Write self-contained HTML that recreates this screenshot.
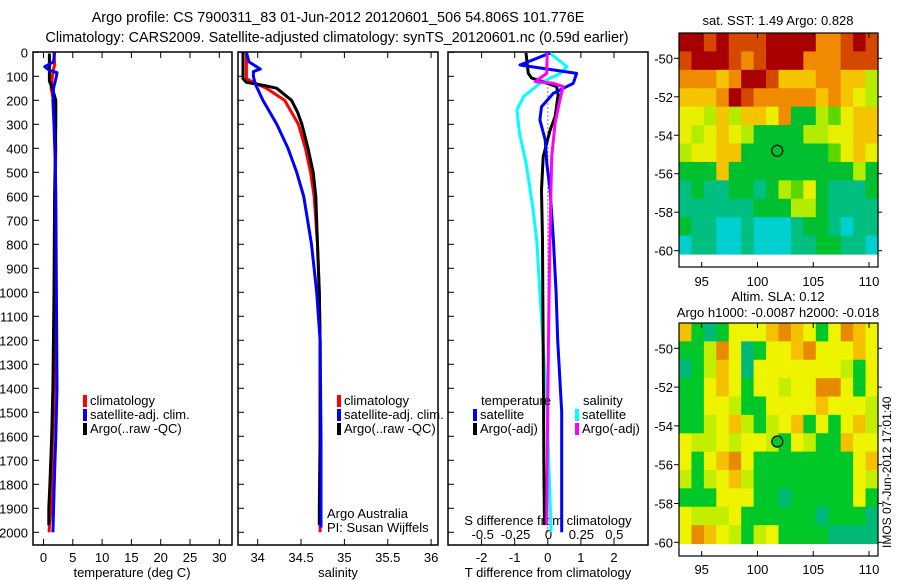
<!DOCTYPE html>
<html><head><meta charset="utf-8"><style>
html,body{margin:0;padding:0;background:#fff;}
svg{display:block;font-family:"Liberation Sans",sans-serif;}
text{font-size:13px;fill:#000;}
.ttl{font-size:14.4px;}
</style></head><body>
<svg id="chart" width="900" height="580" viewBox="0 0 900 580" xmlns="http://www.w3.org/2000/svg">
<text class="ttl" x="338" y="22" text-anchor="middle">Argo profile: CS 7900311_83 01-Jun-2012 20120601_506 54.806S 101.776E</text>
<text class="ttl" x="337" y="42" text-anchor="middle">Climatology: CARS2009. Satellite-adjusted climatology: synTS_20120601.nc (0.59d earlier)</text>
<g id="g1"></g>
<g id="g2"></g>
<g id="g3"></g>
<g id="m1"></g>
<g id="m2"></g>
<text transform="translate(891,548) rotate(-90)" style="font-size:12px">IMOS 07-Jun-2012 17:01:40</text>
</svg>
<script>
// ---- profile data ----
const depthTicks = [0,100,200,300,400,500,600,700,800,900,1000,1100,1200,1300,1400,1500,1600,1700,1800,1900,2000];
const tempTicks = [0,5,10,15,20,25,30];
const salTicks = [34,34.5,35,35.5,36];
const tdiffTicks = [-2,-1,0,1,2];
const sdiffTicks = [-0.5,-0.25,0,0.25,0.5];
const sdiffTickLabels = ["-0.5","-0.25","0","0.25","0.5"];

const tClimDepth = [0,50,100,150,200,300,400,600,1000,1400,1500,1650,1900,1970,2000];
const tClimVal   = [1.8,1.9,1.5,1.3,1.7,2.0,2.1,2.0,1.9,1.8,1.7,1.5,1.3,1.0,0.95];
const tSatDepth  = [0,40,60,75,85,100,150,200,300,450,600,1000,1400,1600,1750,2000];
const tSatVal    = [1.9,1.7,0.2,1.0,2.3,2.2,1.7,1.6,1.8,2.0,2.1,2.2,2.3,2.1,1.9,1.6];
const tArgoDepth = [5,60,120,150,200,300,600,1000,1400,1600,1800,1900,1970];
const tArgoVal   = [1.0,1.0,1.0,1.5,2.1,2.1,1.9,1.8,1.6,1.4,1.1,0.9,0.9];

const sClimDepth = [0,110,125,150,200,300,400,500,600,800,1000,1200,1600,2000];
const sClimVal   = [33.87,33.87,33.95,34.10,34.31,34.47,34.55,34.61,34.65,34.69,34.71,34.72,34.72,34.72];
const sSatDepth  = [0,40,70,80,100,130,200,300,400,500,600,800,1000,1200,1600,1980];
const sSatVal    = [33.87,33.9,34.03,33.95,33.95,33.97,34.06,34.22,34.35,34.45,34.53,34.62,34.68,34.72,34.73,34.73];
const sArgoDepth = [0,110,125,130,140,150,200,250,300,400,500,600,800,1000,1200,1600,1900,1970];
const sArgoVal   = [33.83,33.83,33.87,33.95,34.10,34.22,34.39,34.46,34.51,34.58,34.64,34.67,34.69,34.71,34.72,34.72,34.71,34.71];

const dtSatDepth  = [3,53,88,129,171,227,282,365,462,574,782,1000,1200,1500,1700,2000];
const dtSatVal    = [0.07,-0.84,0.87,0.77,0.17,-0.19,-0.24,-0.08,-0.03,0.07,0.17,0.25,0.30,0.42,0.42,0.42];
const dtArgoDepth = [3,88,107,143,178,268,324,435,574,782,1000,1400,1700,1970];
const dtArgoVal   = [-0.66,-0.59,-0.49,0.27,0.31,0.22,0.07,-0.14,-0.19,-0.16,-0.15,-0.13,-0.12,-0.10];
const dsSatDepth  = [3,60,88,129,185,240,337,462,643,782,1000,1500,2000];
const dsSatVal    = [0.01,0.14,0.09,-0.065,-0.19,-0.24,-0.22,-0.17,-0.12,-0.09,-0.065,-0.01,0.02];
const dsArgoDepth = [3,88,122,129,143,199,295,435,782,1200,1600,1970];
const dsArgoVal   = [-0.01,-0.014,-0.10,0.036,0.11,0.087,0.05,0.024,0.011,0.0,-0.008,-0.014];

// ---- map data (colour codes per cell, rows north->south) ----
const sstRows = [
"RRrRrrrRRRRoorRr","rRRRrorRRRooorrr","oooyoRRryyyooyyl","yyyoRroooooyoyYl",
"YYlylyyYogglLYyy","YlYyYlggggllYYyy","lYYyygggggggLYyY","gggygggggggggglg",
"tgttggtglLYgtttg","ttttttgggllgtttt","gttcctccctggtctt","cttcctcccttggttc"];
const slaRows = [
"ogtgYYYoOoYgYOoY","gglOYtgYYoOYYYoY","tgloYtYYYYYYYlgY","ggYoYgYYlYYOOYgY",
"ggYYlggYYYYoYYYl","gglYolglYogYgYol","YllYlYYlgYlggoYY","YgYoOYggggggggYo",
"lglYolggggggggYl","gggYYYggtgggggYg","YlllYggggggtgggt","YOoYlglYggggtttt"];
const sstColors = {R:"#a80000",r:"#d44800",o:"#f08a00",y:"#f4c400",Y:"#e8f000",l:"#b4ec00",L:"#5cd800",g:"#00c030",t:"#00bf80",c:"#00cfd0"};
const slaColors = {O:"#e88a00",o:"#f4c000",Y:"#eef400",l:"#c4ee00",g:"#00c828",t:"#00b878"};
const floatLon = 101.776, floatLat = -54.806;
const lonTicks = [95,100,105,110];
const latTicks = [-50,-52,-54,-56,-58,-60];

const NS="http://www.w3.org/2000/svg";
function mk(parent,tag,attrs,txt){const e=document.createElementNS(NS,tag);for(const k in attrs)e.setAttribute(k,attrs[k]);if(txt!==undefined)e.textContent=txt;parent.appendChild(e);return e;}

const Y0=52.3, YK=0.2400, TOP=52, BOT=545;
const yD = d => Y0 + YK*d;

function frame(g,x0,x1,name){
  const r=mk(g,'rect',{x:x0,y:TOP,width:x1-x0,height:BOT-TOP,fill:'none',stroke:'#000','stroke-width':1.5});
  
  
  depthTicks.forEach(d=>{
    const l=mk(g,'line',{x1:x0,x2:x0+6,y1:yD(d),y2:yD(d),stroke:'#000'});
    
    
  });
}
function xticks(g,fx,ticks,labels,ly,name){
  ticks.forEach((t,i)=>{
    const x=fx(t);
    mk(g,'line',{x1:x,x2:x,y1:BOT,y2:BOT-6,stroke:'#000'});
    mk(g,'line',{x1:x,x2:x,y1:TOP,y2:TOP+6,stroke:'#000'});
    const tx=mk(g,'text',{x:x,y:ly,'text-anchor':'middle'},labels?labels[i]:String(t));
    
    
  });
}
function line(g,fx,ds,vs,color,name,w){
  const pts=ds.map((d,i)=>fx(vs[i]).toFixed(1)+','+yD(d).toFixed(1)).join(' ');
  const p=mk(g,'polyline',{points:pts,fill:'none',stroke:color,'stroke-width':w||3,'stroke-linejoin':'round'});
  
  
}
function legend(g,x,y,color,label,name){
  mk(g,'rect',{x:x,y:y-10,width:4,height:12,fill:color});
  const t=mk(g,'text',{x:x+7,y:y},label);
  
  
}

// Panel 1
const g1=document.getElementById('g1');
const fT=v=>43.5+5.86*v;
frame(g1,33,232,'temperature');
depthTicks.forEach(d=>{const t=mk(g1,'text',{x:28,y:yD(d)+5,'text-anchor':'end'},String(d));
  
  });
xticks(g1,fT,tempTicks,null,562,'temperature');
mk(g1,'text',{x:132,y:577,'text-anchor':'middle'},'temperature (deg C)');
line(g1,fT,tClimDepth,tClimVal,'#ff0000','temp-climatology-line');
line(g1,fT,tArgoDepth,tArgoVal,'#000000','temp-argo-line');
line(g1,fT,tSatDepth,tSatVal,'#0000ff','temp-satellite-line');
legend(g1,83,405,'#ff0000','climatology','legend-climatology');
legend(g1,83,419,'#0000ff','satellite-adj. clim.','legend-satellite');
legend(g1,83,433,'#000000','Argo(..raw -QC)','legend-argo');

// Panel 2
const g2=document.getElementById('g2');
const fS=v=>257.7+86.7*(v-34);
frame(g2,238,438,'salinity');
xticks(g2,fS,salTicks,null,562,'salinity');
mk(g2,'text',{x:338,y:577,'text-anchor':'middle'},'salinity');
line(g2,fS,sClimDepth,sClimVal,'#ff0000','sal-climatology-line');
line(g2,fS,sArgoDepth,sArgoVal,'#000000','sal-argo-line');
line(g2,fS,sSatDepth,sSatVal,'#0000ff','sal-satellite-line');
legend(g2,337,405,'#ff0000','climatology','legend2-climatology');
legend(g2,337,419,'#0000ff','satellite-adj. clim.','legend2-satellite');
legend(g2,337,433,'#000000','Argo(..raw -QC)','legend2-argo');
mk(g2,'text',{x:327,y:518},'Argo Australia');
mk(g2,'text',{x:327,y:532},'PI: Susan Wijffels');

// Panel 3
const g3=document.getElementById('g3');
const fDT=v=>547.8+33.1*v;
const fDS=v=>548.5+131.6*v;
frame(g3,448,648,'difference');
xticks(g3,fDT,tdiffTicks,null,562,'tdiff');
mk(g3,'text',{x:548,y:577,'text-anchor':'middle'},'T difference from climatology');
sdiffTicks.forEach((t,i)=>{const tx=mk(g3,'text',{x:fDS(t),y:539,'text-anchor':'middle'},sdiffTickLabels[i]);
  
  });
mk(g3,'text',{x:548,y:525,'text-anchor':'middle'},'S difference from climatology');
mk(g3,'line',{x1:fDT(0),x2:fDT(0),y1:yD(130),y2:yD(2000),stroke:'#000','stroke-dasharray':'1,3'});
line(g3,fDS,dsSatDepth,dsSatVal,'#00ffff','sdiff-satellite-line');
line(g3,fDT,dtArgoDepth,dtArgoVal,'#000000','tdiff-argo-line');
line(g3,fDT,dtSatDepth,dtSatVal,'#0000ff','tdiff-satellite-line');
line(g3,fDS,dsArgoDepth,dsArgoVal,'#ff00ff','sdiff-argo-line');
mk(g3,'text',{x:481,y:405},'temperature');
legend(g3,473,419,'#0000ff','satellite','legend3-t-satellite');
legend(g3,473,433,'#000000','Argo(-adj)','legend3-t-argo');
mk(g3,'text',{x:583,y:405},'salinity');
legend(g3,575,419,'#00ffff','satellite','legend3-s-satellite');
legend(g3,575,433,'#ff00ff','Argo(-adj)','legend3-s-argo');

// Maps
function map(id,rows,colors,top,bot,dataBot,latY50,latY60,titles,labelY,filled){
  const g=document.getElementById(id);
  const x0=679,x1=878;
  const fx=lon=>701.7+(lon-95)*(869-701.7)/15;
  const fy=lat=>latY50+(lat+50)*(latY60-latY50)/(-10);
  const nr=rows.length,nc=rows[0].length;
  const cw=(x1-x0)/nc,ch=(dataBot-top)/nr;
  rows.forEach((row,r)=>{for(let c=0;c<nc;c++){
    const col=colors[row[c]]||'#00c030';
    mk(g,'rect',{x:(x0+c*cw).toFixed(2),y:(top+r*ch).toFixed(2),width:(cw+0.6).toFixed(2),height:(ch+0.6).toFixed(2),fill:col});
  }});
  const fr=mk(g,'rect',{x:x0,y:top,width:x1-x0,height:bot-top,fill:'none',stroke:'#000','stroke-width':1.2});
  
  
  latTicks.forEach(l=>{const y=fy(l);
    mk(g,'line',{x1:x0-5,x2:x0,y1:y,y2:y,stroke:'#000'});
    mk(g,'line',{x1:x1,x2:x1+4,y1:y,y2:y,stroke:'#000'});
    const t=mk(g,'text',{x:x0-6,y:y+5,'text-anchor':'end'},String(l));
    
    });
  lonTicks.forEach(l=>{const x=fx(l);
    mk(g,'line',{x1:x,x2:x,y1:bot,y2:bot-5,stroke:'#000'});
    mk(g,'line',{x1:x,x2:x,y1:top,y2:top+5,stroke:'#000'});
    const t=mk(g,'text',{x:x,y:labelY,'text-anchor':'middle'},String(l));
    
    });
  titles.forEach(tt=>{const t=mk(g,'text',{x:778,y:tt[1],'text-anchor':'middle'},tt[0]);
    
    });
  const c=mk(g,'circle',{cx:fx(floatLon),cy:fy(floatLat),r:5.5,fill:filled?'#00c828':'none',stroke:'#000','stroke-width':1.2});
  
  
}
map('m1',sstRows,sstColors,33,267,254,58.3,250.7,[['sat. SST: 1.49 Argo: 0.828',25]],286,false);
map('m2',slaRows,slaColors,323,556,543.5,348.3,542.3,[['Altim. SLA: 0.12',301],['Argo h1000: -0.0087 h2000: -0.018',317]],574,true);
</script>
</body></html>
